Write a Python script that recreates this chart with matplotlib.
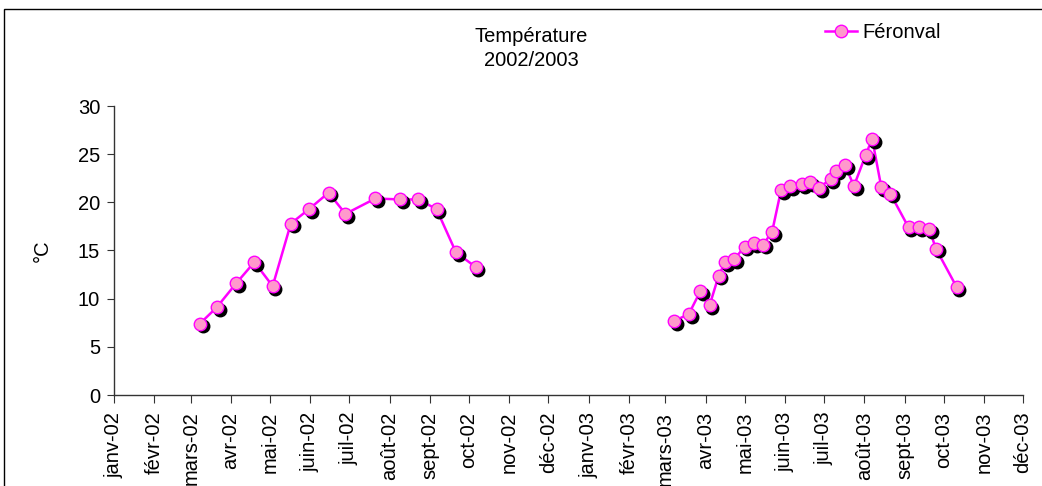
import matplotlib
matplotlib.use("Agg")
import matplotlib.pyplot as plt
import matplotlib.transforms as mtransforms
from matplotlib.patches import Rectangle
from matplotlib.lines import Line2D
import numpy as np
import pandas as pd

plt.rcParams['font.family'] = ['Liberation Sans', 'DejaVu Sans']

# mesures 2002
dates_2002 = ["2002-03-08", "2002-03-21", "2002-04-05", "2002-04-19", "2002-05-03",
              "2002-05-17", "2002-05-31", "2002-06-15", "2002-06-28", "2002-07-21",
              "2002-08-09", "2002-08-23", "2002-09-06", "2002-09-21", "2002-10-06"]
temp_2002 = [7.4, 9.1, 11.6, 13.8, 11.3, 17.8, 19.3, 21.0, 18.8, 20.4,
             20.3, 20.3, 19.3, 14.8, 13.3]

# mesures 2003
dates_2003 = ["2003-03-08", "2003-03-19", "2003-03-28", "2003-04-04", "2003-04-11",
              "2003-04-16", "2003-04-23", "2003-05-01", "2003-05-08", "2003-05-15",
              "2003-05-22", "2003-05-29", "2003-06-05", "2003-06-14", "2003-06-20",
              "2003-06-27", "2003-07-06", "2003-07-10", "2003-07-17", "2003-07-24",
              "2003-08-02", "2003-08-07", "2003-08-14", "2003-08-21", "2003-09-04",
              "2003-09-12", "2003-09-20", "2003-09-25", "2003-10-11"]
temp_2003 = [7.7, 8.4, 10.8, 9.3, 12.4, 13.8, 14.1, 15.4, 15.8, 15.6,
             16.9, 21.3, 21.7, 21.9, 22.1, 21.5, 22.4, 23.3, 23.9, 21.7,
             24.9, 26.6, 21.6, 20.9, 17.4, 17.4, 17.2, 15.2, 11.2]

mois = ["janv", "févr", "mars", "avr", "mai", "juin", "juil", "août",
        "sept", "oct", "nov", "déc"]
serie = "Féronval"

line_col = "#FF00FF"
fill_col = "#FF99CC"
axis_col = "#333333"
fs = 14.5

fig = plt.figure(figsize=(10.42, 4.86), dpi=100)
ax = fig.add_axes([114/1042, 1-395/486, 909/1042, 289/486])

shadow = ax.transData + mtransforms.ScaledTranslation(2/72, -2/72, fig.dpi_scale_trans)

for d, t in [(dates_2002, temp_2002), (dates_2003, temp_2003)]:
    x = pd.to_datetime(d)
    ax.plot(x, t, color=line_col, lw=1.8, zorder=2, label=serie)
    ax.plot(x, t, ls='none', marker='o', ms=9, mfc='black', mec='black',
            transform=shadow, zorder=3)
    ax.plot(x, t, ls='none', marker='o', ms=9, mfc=fill_col, mec=line_col,
            mew=1.0, zorder=4)

ticks = pd.date_range("2002-01-01", "2003-12-01", freq="MS")
ax.set_xticks(ticks)
ax.set_xticklabels([f"{mois[t.month-1]}-{t.strftime('%y')}" for t in ticks],
                   rotation=90, fontsize=fs)
ax.set_xlim(ticks[0], ticks[-1])
ax.set_ylim(0, 30)
ax.set_yticks(np.arange(0, 31, 5))
ax.tick_params(axis='y', labelsize=fs, length=5, color=axis_col, pad=5)
ax.tick_params(axis='x', length=6, color=axis_col, pad=6)

for s in ['top', 'right']:
    ax.spines[s].set_visible(False)
for s in ['left', 'bottom']:
    ax.spines[s].set_color(axis_col)
    ax.spines[s].set_linewidth(1.0)

ax.set_ylabel("°C", fontsize=fs)
ax.yaxis.set_label_coords(-0.068, 0.5)

fig.text(531/1042, 1-37/486, "Température", ha='center', va='center', fontsize=fs)
fig.text(531/1042, 1-61/486, "2002/2003", ha='center', va='center', fontsize=fs)

# légende
h = Line2D([], [], color=line_col, lw=1.8, marker='o', ms=9, mfc=fill_col,
           mec=line_col)
fig.legend([h], [serie], loc='center left', bbox_to_anchor=(825/1042, 1-33/486),
           frameon=False, fontsize=fs, handlelength=1.6, handletextpad=0.25,
           borderaxespad=0, borderpad=0)

# cadre du graphique
fig.patches.append(Rectangle((4/1042, -0.05), 1.1, 1-9/486+0.05, transform=fig.transFigure,
                             fill=False, ec='black', lw=1.0, zorder=0))

fig.savefig("out.png", dpi=100)
